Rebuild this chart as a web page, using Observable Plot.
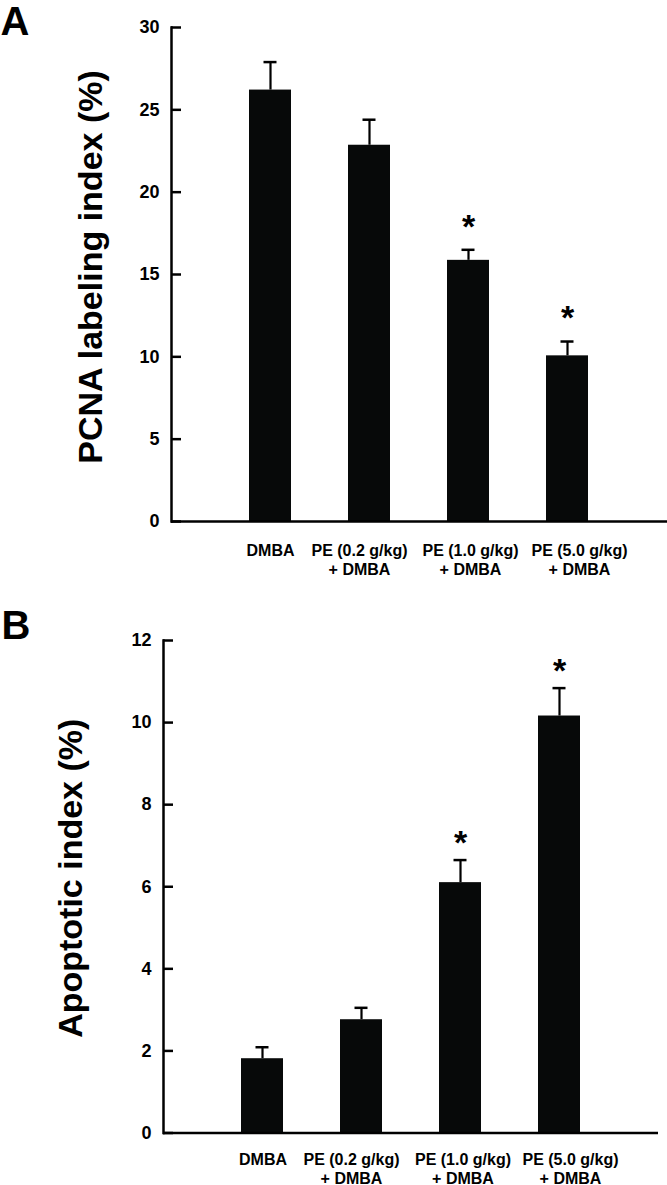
<!DOCTYPE html>
<html><head><meta charset="utf-8">
<script src="https://cdn.jsdelivr.net/npm/d3@7"></script>
<script src="https://cdn.jsdelivr.net/npm/@observablehq/plot@0.6"></script>
<style>
body{margin:0;background:#fff;}
#chart svg{display:block;}
</style></head><body><div id="chart"></div>
<script>
const categories = ["DMBA", "PE (0.2 g/kg)\n+ DMBA", "PE (1.0 g/kg)\n+ DMBA", "PE (5.0 g/kg)\n+ DMBA"];
const pcnaValues = [26.2, 22.85, 15.86, 10.06];
const pcnaErrors = [1.7, 1.55, 0.64, 0.87];
const pcnaSignificant = [false, false, true, true];
const apoptoticValues = [1.81, 2.76, 6.10, 10.16];
const apoptoticErrors = [0.28, 0.29, 0.55, 0.68];
const apoptoticSignificant = [false, false, true, true];
const pcnaTicks = [0, 5, 10, 15, 20, 25, 30];
const apoptoticTicks = [0, 2, 4, 6, 8, 10, 12];

const FONT = "'Liberation Sans', Arial, Helvetica, sans-serif";

function panel(o) {
  const rows = categories.map((c, i) => ({c, v: o.values[i], e: o.errors[i], s: o.sig[i]}));
  return Plot.plot({
    width: o.width, height: o.height,
    marginTop: o.marginTop, marginBottom: o.marginBottom,
    marginLeft: o.marginLeft, marginRight: o.marginRight,
    style: {fontFamily: FONT, fontWeight: "bold", color: "#000", background: "#fff", overflow: "visible"},
    x: {domain: categories, range: o.xRange, paddingInner: 0.5758, paddingOuter: 0.5, align: 0.5, label: null, axis: null},
    y: {domain: [0, o.yMax], label: null},
    marks: [
      Plot.barY(rows, {x: "c", y: "v", fill: "#070909"}),
      Plot.ruleX(rows, {x: "c", y1: "v", y2: d => d.v + d.e, stroke: "#000", strokeWidth: 2.2}),
      Plot.tickY(rows, {x: "c", y: d => d.v + d.e, stroke: "#000", strokeWidth: 2.5, insetLeft: 14.5, insetRight: 14.5}),
      Plot.text(rows.filter(d => d.s), {x: "c", y: d => d.v + d.e, text: () => "*", fontSize: 34, fontWeight: "bold", lineAnchor: "middle", dy: o.starDy, fill: "#000"}),
      Plot.axisY({ticks: o.ticks, tickSize: 0, tickPadding: 12, fontSize: 18, label: null}),
      Plot.axisY({ticks: o.ticks, tickSize: 10, dx: 10, tickFormat: () => "", strokeWidth: 2.5, label: null}),
      ...rows.map((r, i) => Plot.text([r], {x: "c", text: "c", frameAnchor: "bottom", lineAnchor: "top", textAnchor: "middle", dy: o.labelDy, dx: o.labelDx[i], fontSize: 16, lineHeight: 1.17, fill: "#000"})),
      Plot.frame({anchor: "left", strokeWidth: 2.5}),
      Plot.ruleY([0], {strokeWidth: 2.5}),
      Plot.text([o.title], {frameAnchor: "left", rotate: -90, fontSize: 34, fontWeight: "bold", lineAnchor: "middle", textAnchor: "middle", dx: o.titleDx, dy: o.titleDy, fill: "#000"}),
      Plot.text([o.letter], {frameAnchor: "top-left", textAnchor: "start", lineAnchor: "top", fontSize: 40, fontWeight: "bold", dx: o.letterDx, dy: o.letterDy, fill: "#000"})
    ]
  });
}

const chart = document.getElementById("chart");
chart.append(panel({
  letter: "A", title: "PCNA labeling index (%)",
  values: pcnaValues, errors: pcnaErrors, sig: pcnaSignificant, ticks: pcnaTicks, yMax: 30,
  width: 667, height: 590, marginTop: 27, marginBottom: 69, marginLeft: 171, marginRight: 0,
  xRange: [199.5, 637.5], titleDx: -80, titleDy: -7.5, starDy: -23, letterDx: -171, letterDy: -21,
  labelDy: 21, labelDx: [0, -10, 2, 12]
}));
chart.append(panel({
  letter: "B", title: "Apoptotic index (%)",
  values: apoptoticValues, errors: apoptoticErrors, sig: apoptoticSignificant, ticks: apoptoticTicks, yMax: 12,
  width: 667, height: 595, marginTop: 50, marginBottom: 52.5, marginLeft: 163, marginRight: 9,
  xRange: [191.5, 629.5], titleDx: -92.5, titleDy: -8.5, starDy: -17.3, letterDx: -162, letterDy: -30,
  labelDy: 19, labelDx: [0.5, -10, 2.5, 11]
}));
</script></body></html>
